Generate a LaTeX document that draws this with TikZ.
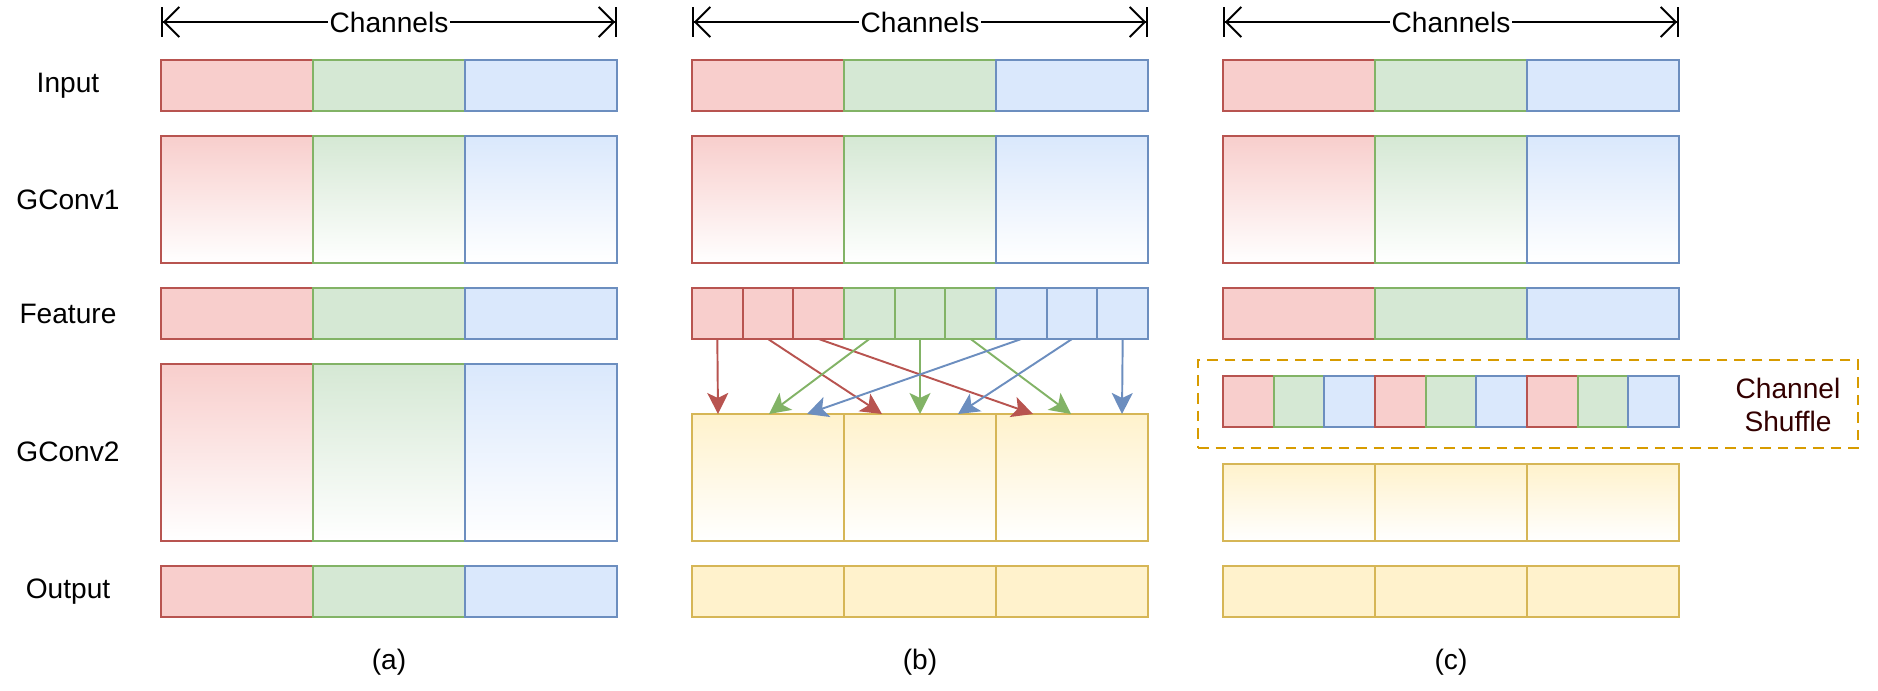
\documentclass[tikz,border=0pt]{standalone}
\usepackage{fontspec}
\setmainfont{Liberation Sans}
\usetikzlibrary{arrows.meta,positioning,calc}
\definecolor{redfill}{HTML}{F8CECC}
\definecolor{redline}{HTML}{B85450}
\definecolor{greenfill}{HTML}{D5E8D4}
\definecolor{greenline}{HTML}{82B366}
\definecolor{bluefill}{HTML}{DAE8FC}
\definecolor{blueline}{HTML}{6C8EBF}
\definecolor{yellowfill}{HTML}{FFF2CC}
\definecolor{yellowline}{HTML}{D6B656}
\definecolor{shufline}{HTML}{D79B00}
\definecolor{shuftext}{HTML}{330000}

\begin{document}
\begin{tikzpicture}[x=0.02cm, y=-0.02cm, font=\fontsize{16}{19}\selectfont,
  blk/.style={draw, line width=1.1pt, inner sep=0pt, outer sep=0pt, anchor=north west,
    minimum width=3.04cm, minimum height=1.02cm},
  small/.style={blk, minimum width=1.013cm},
  tall/.style={minimum height=2.54cm},
  chan/.style={line width=1.1pt, {Bar[width=0.6cm]Straight Barb[length=0.3cm,width=0.6cm]}-{Straight Barb[length=0.3cm,width=0.6cm]Bar[width=0.6cm]}},
  link/.style={line width=1.1pt, -{Stealth[length=0.42cm,width=0.42cm,inset=0.1cm]}}]
  \useasboundingbox (0,0) rectangle (1878,690);

  % Row labels
  \node (lbl-in) at (68,86) {Input};
  \node (lbl-g1) at (68,200) {GConv1};
  \node (lbl-ft) at (68,314) {Feature};
  \node (lbl-g2) at (68,452) {GConv2};
  \node (lbl-out) at (68,592) {Output};

  % Channels, Input and GConv1 for all three panels
  \foreach \p/\px in {a/161,b/692,c/1223}{
    \coordinate (\p-l) at (\px,22);
    \coordinate (\p-r) at (\px+456,22);
    \draw[chan] (\p-l) -- node[fill=white, inner sep=1pt] {Channels} (\p-r);
    \foreach \c/\i in {red/0,green/1,blue/2}{
      \node[blk, draw=\c line, fill=\c fill] (\p-in-\i) at (\px+152*\i,60) {};
      \node[blk, tall, draw=\c line, top color=\c fill, bottom color=white] (\p-g1-\i) at (\px+152*\i,136) {};
    }
    \node (\p-cap) at (\px+228,662) {(\p)};
  }

  % Panel (a)
  \foreach \c/\i in {red/0,green/1,blue/2}{
    \node[blk, draw=\c line, fill=\c fill] (a-ft-\i) at (161+152*\i,288) {};
    \node[blk, minimum height=3.54cm, draw=\c line, top color=\c fill, bottom color=white] (a-g2-\i) at (161+152*\i,364) {};
    \node[blk, draw=\c line, fill=\c fill] (a-out-\i) at (161+152*\i,566) {};
  }

  % Panel (b)
  \foreach \c/\k in {red/0,red/1,red/2,green/3,green/4,green/5,blue/6,blue/7,blue/8}{
    \node[small, draw=\c line, fill=\c fill] (b-ft-\k) at (692+50.67*\k,288) {};
  }
  \foreach \i in {0,1,2}{
    \node[blk, tall, draw=yellowline, top color=yellowfill, bottom color=white] (b-g2-\i) at (692+152*\i,414) {};
    \node[blk, draw=yellowline, fill=yellowfill] (b-out-\i) at (692+152*\i,566) {};
  }
  \foreach \k/\tx/\c in {0/718/red,1/882/red,2/1033/red,3/769/green,4/920/green,5/1071/green,6/807/blue,7/958/blue,8/1122/blue}{
    \coordinate (b-t-\k) at (\tx,414);
    \draw[link, \c line] (b-ft-\k.south) -- (b-t-\k);
  }

  % Panel (c)
  \foreach \c/\i in {red/0,green/1,blue/2}{
    \node[blk, draw=\c line, fill=\c fill] (c-ft-\i) at (1223+152*\i,288) {};
  }
  \node[blk, draw=shufline, dashed, dash pattern=on 6pt off 4pt, minimum width=13.2cm, minimum height=1.76cm] (shuf-box) at (1198,360) {};
  \foreach \c/\k in {red/0,green/1,blue/2,red/3,green/4,blue/5,red/6,green/7,blue/8}{
    \node[small, draw=\c line, fill=\c fill] (c-sh-\k) at (1223+50.67*\k,376) {};
  }
  \node[align=center, text=shuftext] (shuf-lbl) at (1788,405) {Channel\\Shuffle};
  \foreach \i in {0,1,2}{
    \node[blk, minimum height=1.54cm, draw=yellowline, top color=yellowfill, bottom color=white] (c-g2-\i) at (1223+152*\i,464) {};
    \node[blk, draw=yellowline, fill=yellowfill] (c-out-\i) at (1223+152*\i,566) {};
  }
\end{tikzpicture}
\end{document}
